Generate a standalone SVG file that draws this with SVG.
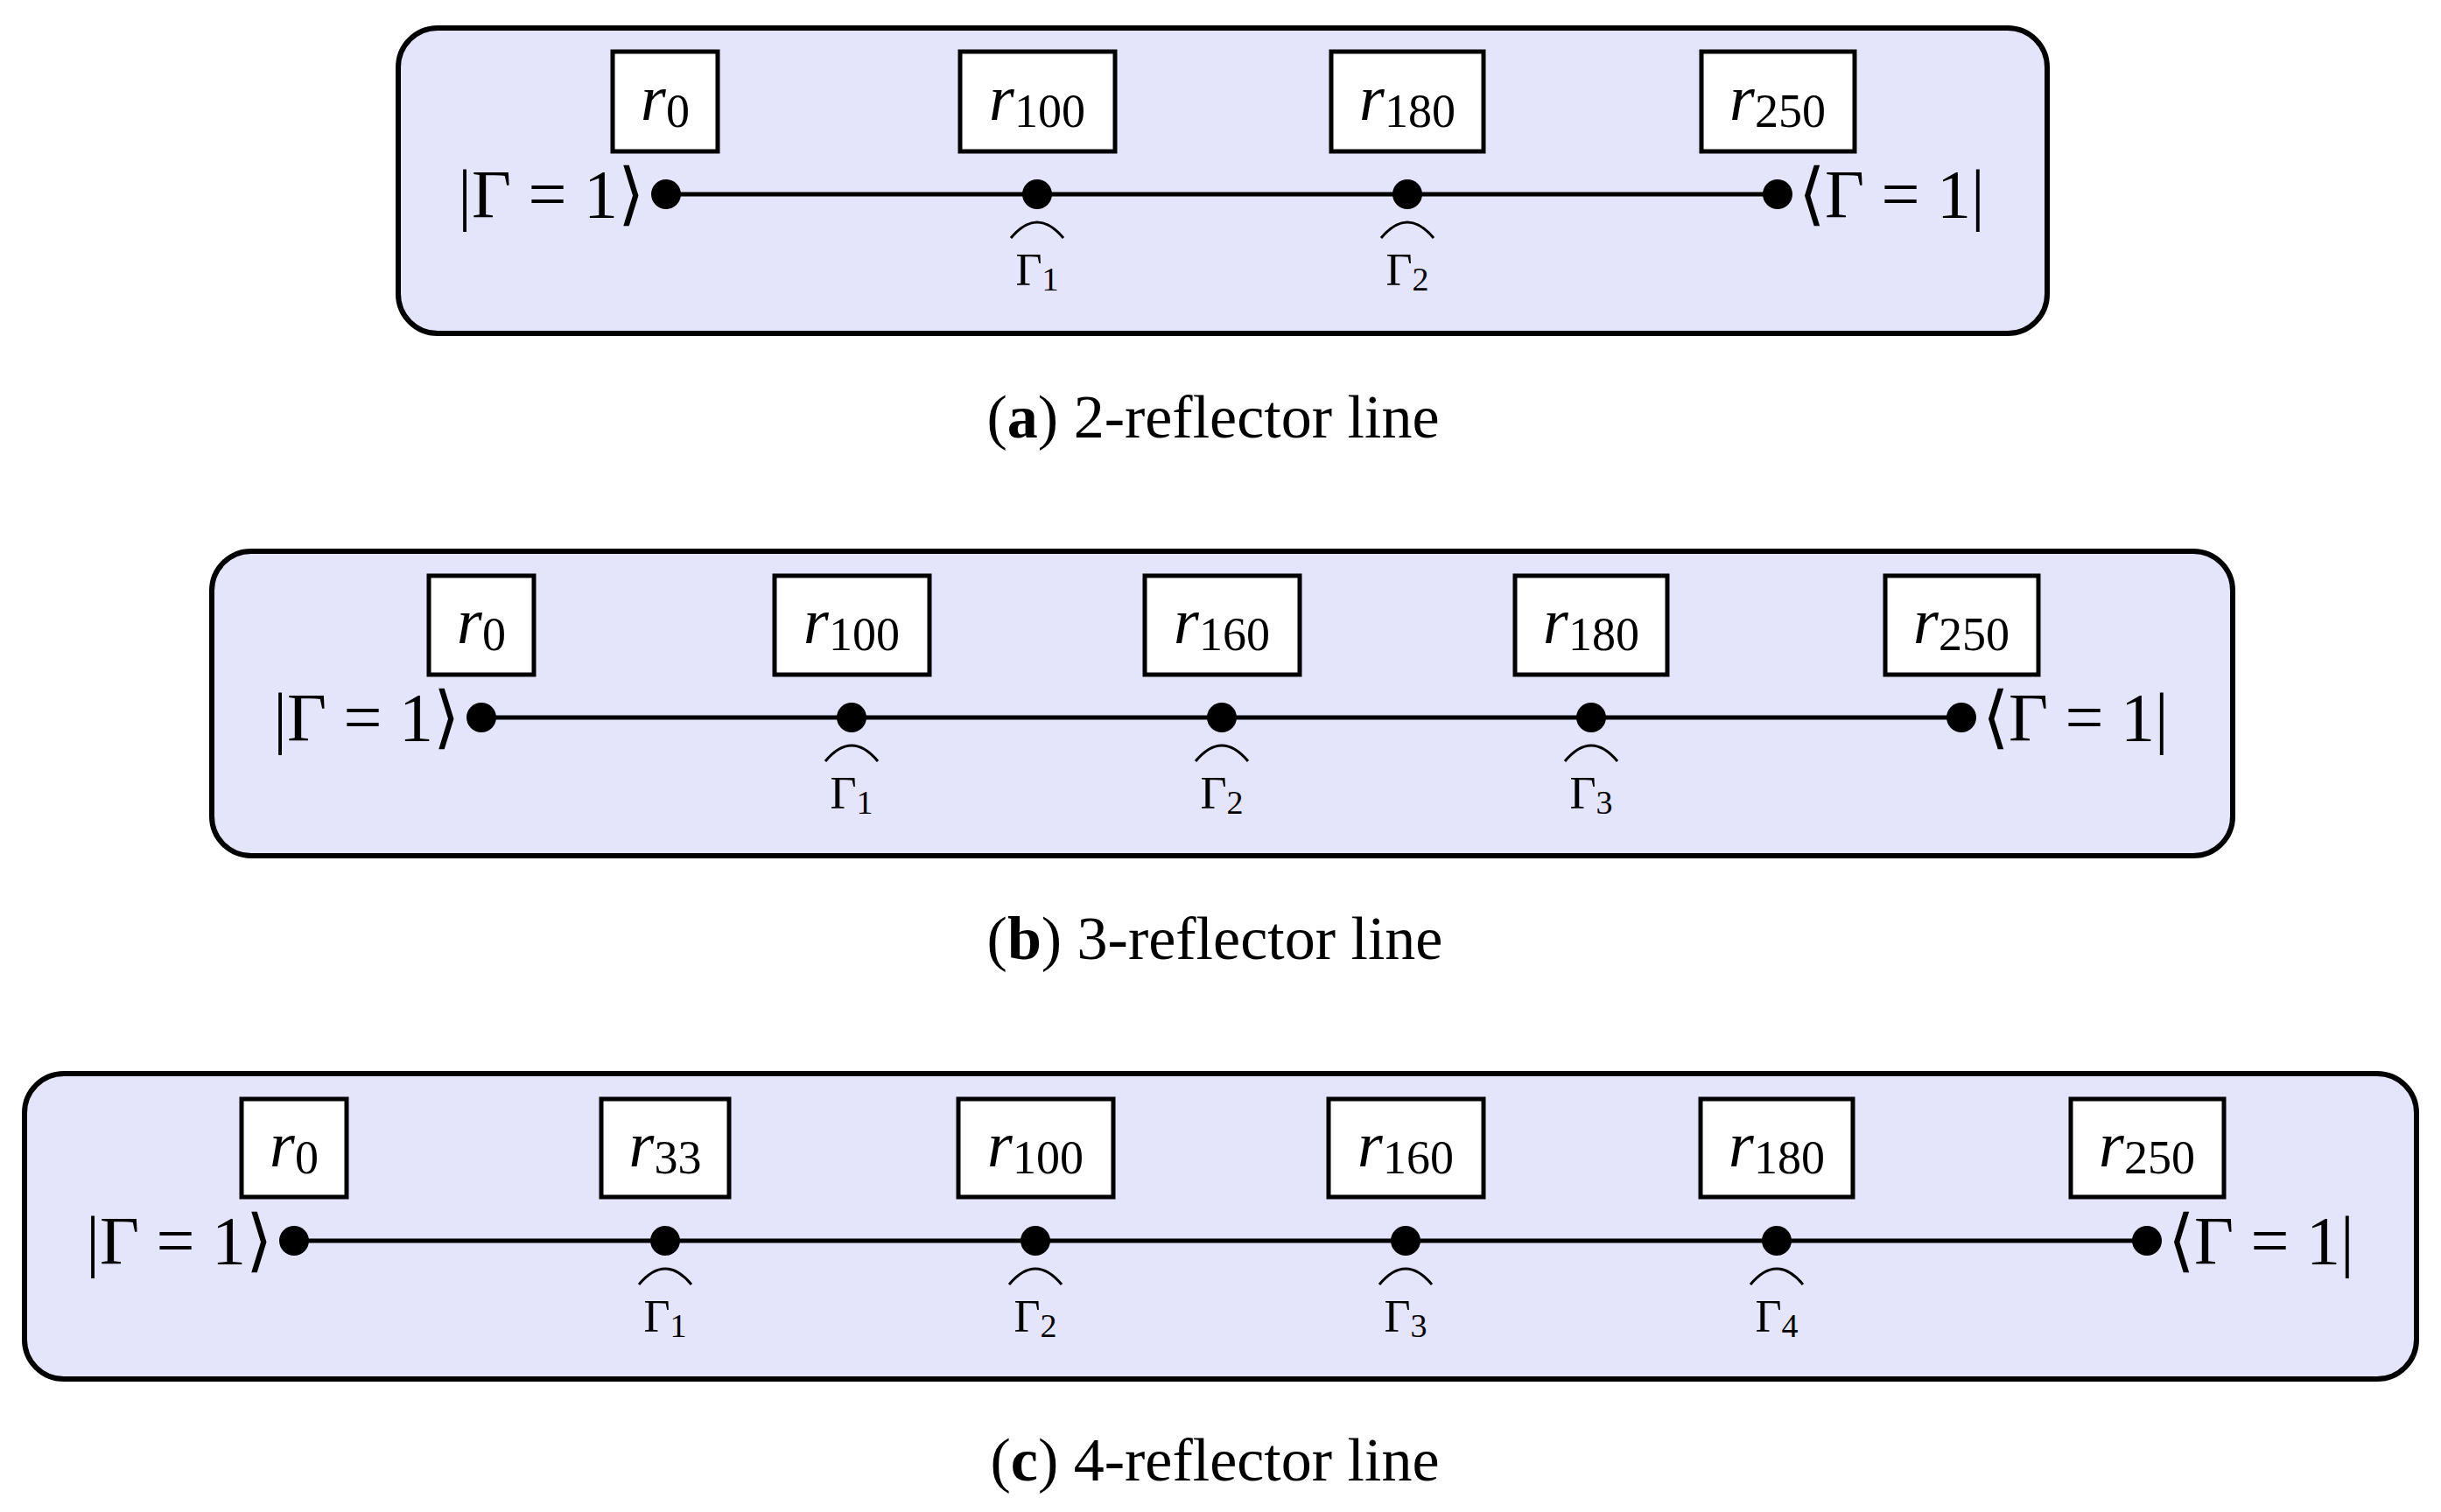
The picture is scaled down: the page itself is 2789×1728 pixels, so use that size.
<svg xmlns="http://www.w3.org/2000/svg" width="2789" height="1728" viewBox="0 0 2789 1728">
<style>
.panel{fill:#e4e4fb;stroke:#000;stroke-width:6}
.box{fill:#fff;stroke:#000;stroke-width:5}
.ln{stroke:#000;stroke-width:5;fill:none}
.arc{stroke:#000;stroke-width:3;fill:none}
.t{font-family:"Liberation Serif",serif;fill:#000}
.r{font-size:74px;font-style:italic;text-anchor:middle}
.sub{font-size:54px;font-style:normal}
.k{font-size:78px}
.g{font-size:52px;text-anchor:middle}
.gs{font-size:38px}
.cap{font-family:"Liberation Serif",serif;font-size:70px;text-anchor:middle}
</style>
<defs>
<g id="arcg"><path class="arc" d="M-30,50 Q0,14 30,50"/></g>
</defs>
<g id="panelA">
<rect class="panel" x="455" y="32" width="1884" height="349" rx="45"/>
<g id="connA"><line class="ln" x1="761" y1="222" x2="2031" y2="222"/></g>
<g id="a_r0"><rect class="box" x="700" y="59" width="120" height="114"/><text class="t r" x="760" y="137">r<tspan class="sub" dy="8">0</tspan></text></g>
<g id="a_r100"><rect class="box" x="1097" y="59" width="177" height="114"/><text class="t r" x="1185" y="137">r<tspan class="sub" dy="8">100</tspan></text></g>
<g id="a_r180"><rect class="box" x="1521" y="59" width="174" height="114"/><text class="t r" x="1608" y="137">r<tspan class="sub" dy="8">180</tspan></text></g>
<g id="a_r250"><rect class="box" x="1944" y="59" width="175" height="114"/><text class="t r" x="2031" y="137">r<tspan class="sub" dy="8">250</tspan></text></g>
<g id="a_dots"><circle cx="761" cy="222" r="17"/><circle cx="1185" cy="222" r="17"/><circle cx="1608" cy="222" r="17"/><circle cx="2031" cy="222" r="17"/></g>
<text class="t k" x="736" y="248" text-anchor="end">|Γ = 1⟩</text>
<text class="t k" x="2055" y="248">⟨Γ = 1|</text>
<use href="#arcg" x="1185" y="222"/><text class="t g" x="1185" y="326">Γ<tspan class="gs" dy="6">1</tspan></text>
<use href="#arcg" x="1608" y="222"/><text class="t g" x="1608" y="326">Γ<tspan class="gs" dy="6">2</tspan></text>
<text class="cap" x="1386" y="500">(<tspan font-weight="bold">a</tspan>) 2-reflector line</text>
</g>
<g id="panelB">
<rect class="panel" x="242" y="630" width="2309" height="348" rx="45"/>
<g id="connB"><line class="ln" x1="550" y1="820" x2="2241" y2="820"/></g>
<g id="b_r0"><rect class="box" x="490" y="658" width="120" height="113"/><text class="t r" x="550" y="735">r<tspan class="sub" dy="8">0</tspan></text></g>
<g id="b_r100"><rect class="box" x="885" y="658" width="177" height="113"/><text class="t r" x="973" y="735">r<tspan class="sub" dy="8">100</tspan></text></g>
<g id="b_r160"><rect class="box" x="1308" y="658" width="177" height="113"/><text class="t r" x="1396" y="735">r<tspan class="sub" dy="8">160</tspan></text></g>
<g id="b_r180"><rect class="box" x="1731" y="658" width="174" height="113"/><text class="t r" x="1818" y="735">r<tspan class="sub" dy="8">180</tspan></text></g>
<g id="b_r250"><rect class="box" x="2154" y="658" width="175" height="113"/><text class="t r" x="2241" y="735">r<tspan class="sub" dy="8">250</tspan></text></g>
<g id="b_dots"><circle cx="550" cy="820" r="17"/><circle cx="973" cy="820" r="17"/><circle cx="1396" cy="820" r="17"/><circle cx="1818" cy="820" r="17"/><circle cx="2241" cy="820" r="17"/></g>
<text class="t k" x="525" y="846" text-anchor="end">|Γ = 1⟩</text>
<text class="t k" x="2265" y="846">⟨Γ = 1|</text>
<use href="#arcg" x="973" y="820"/><text class="t g" x="973" y="924">Γ<tspan class="gs" dy="6">1</tspan></text>
<use href="#arcg" x="1396" y="820"/><text class="t g" x="1396" y="924">Γ<tspan class="gs" dy="6">2</tspan></text>
<use href="#arcg" x="1818" y="820"/><text class="t g" x="1818" y="924">Γ<tspan class="gs" dy="6">3</tspan></text>
<text class="cap" x="1388" y="1096">(<tspan font-weight="bold">b</tspan>) 3-reflector line</text>
</g>
<g id="panelC">
<rect class="panel" x="28" y="1227" width="2733" height="349" rx="45"/>
<g id="connC"><line class="ln" x1="336" y1="1418" x2="2453" y2="1418"/></g>
<g id="c_r0"><rect class="box" x="276" y="1256" width="120" height="112"/><text class="t r" x="336" y="1333">r<tspan class="sub" dy="8">0</tspan></text></g>
<g id="c_r33"><rect class="box" x="687" y="1256" width="146" height="112"/><text class="t r" x="760" y="1333">r<tspan class="sub" dy="8">33</tspan></text></g>
<g id="c_r100"><rect class="box" x="1095" y="1256" width="177" height="112"/><text class="t r" x="1183" y="1333">r<tspan class="sub" dy="8">100</tspan></text></g>
<g id="c_r160"><rect class="box" x="1518" y="1256" width="177" height="112"/><text class="t r" x="1606" y="1333">r<tspan class="sub" dy="8">160</tspan></text></g>
<g id="c_r180"><rect class="box" x="1943" y="1256" width="174" height="112"/><text class="t r" x="2030" y="1333">r<tspan class="sub" dy="8">180</tspan></text></g>
<g id="c_r250"><rect class="box" x="2366" y="1256" width="175" height="112"/><text class="t r" x="2453" y="1333">r<tspan class="sub" dy="8">250</tspan></text></g>
<g id="c_dots"><circle cx="336" cy="1418" r="17"/><circle cx="760" cy="1418" r="17"/><circle cx="1183" cy="1418" r="17"/><circle cx="1606" cy="1418" r="17"/><circle cx="2030" cy="1418" r="17"/><circle cx="2453" cy="1418" r="17"/></g>
<text class="t k" x="311" y="1444" text-anchor="end">|Γ = 1⟩</text>
<text class="t k" x="2477" y="1444">⟨Γ = 1|</text>
<use href="#arcg" x="760" y="1418"/><text class="t g" x="760" y="1522">Γ<tspan class="gs" dy="6">1</tspan></text>
<use href="#arcg" x="1183" y="1418"/><text class="t g" x="1183" y="1522">Γ<tspan class="gs" dy="6">2</tspan></text>
<use href="#arcg" x="1606" y="1418"/><text class="t g" x="1606" y="1522">Γ<tspan class="gs" dy="6">3</tspan></text>
<use href="#arcg" x="2030" y="1418"/><text class="t g" x="2030" y="1522">Γ<tspan class="gs" dy="6">4</tspan></text>
<text class="cap" x="1388" y="1692">(<tspan font-weight="bold">c</tspan>) 4-reflector line</text>
</g>
</svg>
